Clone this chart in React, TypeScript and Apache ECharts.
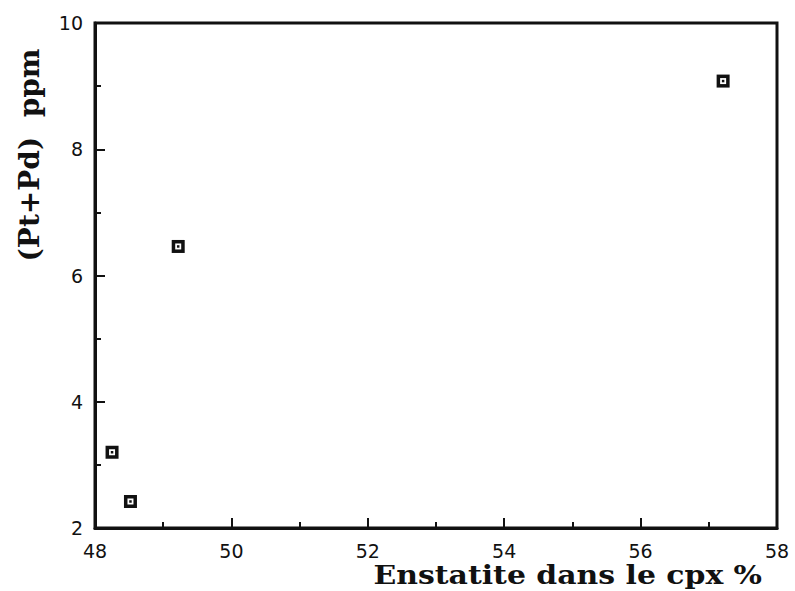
import React, { useEffect, useRef } from "react";
import * as echarts from "echarts";

const enstatite = [48.25, 48.52, 49.22, 57.21];
const ptPd = [3.2, 2.42, 6.46, 9.08];
const xTitle = "Enstatite dans le cpx %";
const yTitle = "(Pt+Pd)  ppm";

export default function App() {
  const ref = useRef<HTMLDivElement>(null);
  useEffect(() => {
    const chart = echarts.init(ref.current!, null, { renderer: "svg" });
    const data = enstatite.map((x, i) => [x, ptPd[i]]);
    const axisCommon = {
      axisLine: { show: true, lineStyle: { color: "#111", width: 3 } },
      axisTick: { show: true, inside: true, length: 10, lineStyle: { color: "#111", width: 2 } },
      minorTick: { show: true, splitNumber: 2, length: 6, lineStyle: { color: "#111", width: 2 } },
      splitLine: { show: false },
      axisLabel: { color: "#111", fontSize: 19, fontFamily: "'DejaVu Sans', sans-serif", lineHeight: 16 },
    };
    chart.setOption({
      animation: false,
      backgroundColor: "#fff",
      grid: { left: 95, right: 18, top: 23, bottom: 63, show: true, borderColor: "#111", borderWidth: 3, backgroundColor: "transparent" },
      xAxis: {
        type: "value",
        min: 48,
        max: 58,
        interval: 2,
        ...axisCommon,
        axisLabel: { ...axisCommon.axisLabel, margin: 15 },
      },
      yAxis: {
        type: "value",
        min: 2,
        max: 10,
        interval: 2,
        ...axisCommon,
        axisLabel: { ...axisCommon.axisLabel, margin: 12 },
      },
      series: [
        { type: "scatter", data, symbol: "rect", symbolSize: 13, itemStyle: { color: "#111", opacity: 1 }, z: 2 },
        { type: "scatter", data, symbol: "rect", symbolSize: 6, itemStyle: { color: "#fff", opacity: 1 }, z: 3 },
        { type: "scatter", data, symbol: "rect", symbolSize: 2.5, itemStyle: { color: "#111", opacity: 1 }, z: 4 },
      ],
      graphic: [
        {
          type: "text",
          x: 762,
          y: 575,
          scaleX: 1.15,
          style: { text: xTitle, font: "bold 26px 'DejaVu Serif', serif", fill: "#111", align: "right", verticalAlign: "middle", lineHeight: 20 },
        },
        {
          type: "text",
          x: 29,
          y: 155,
          rotation: Math.PI / 2,
          style: { text: yTitle, font: "bold 28px 'DejaVu Serif', serif", fill: "#111", align: "center", verticalAlign: "middle", lineHeight: 24 },
        },
      ],
    });
    return () => chart.dispose();
  }, []);
  return <div ref={ref} style={{ width: 795, height: 591, position: "absolute", left: 0, top: 0 }} />;
}
